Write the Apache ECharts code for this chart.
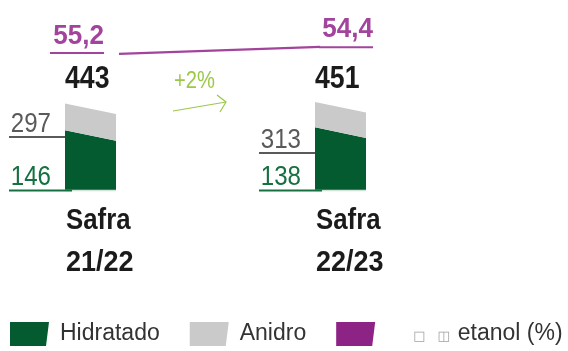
<!DOCTYPE html>
<html>
<head>
<meta charset="utf-8">
<style>
  html, body { margin: 0; padding: 0; background: #ffffff; }
  #chart { width: 568px; height: 351px; }
</style>
<script src="https://cdn.jsdelivr.net/npm/echarts@6/dist/echarts.min.js"></script>
</head>
<body>
<div id="chart"></div>
<script>
// Ethanol sales by harvest (thousand m³), split Hidratado / Anidro, plus ethanol share (%)
const categories = ['Safra\n21/22', 'Safra\n22/23'];
const hidratado = [297, 313];
const anidro = [146, 138];
const etanolPct = [55.2, 54.4];

const totals = categories.map((c, i) => hidratado[i] + anidro[i]);
const growth = Math.round((totals[1] / totals[0] - 1) * 100);
const growthLabel = (growth >= 0 ? '+' : '') + growth + '%';

const SANS = "'Liberation Sans', Arial, Helvetica, sans-serif";
const NARROW_X = 0.86;   // horizontal squeeze that gives the condensed look

const C = {
  green: '#045b30',
  grey: '#cacaca',
  greyText: '#5a5a5a',
  greenText: '#16703f',
  purple: '#a2449c',
  purpleLegend: '#8e2386',
  lime: '#9cc84a',
  dark: '#1b1b1b'
};

// bar geometry (pixels)
const HALF = 25.5;     // half bar width
const TILT = 5.3;      // slanted top: left edge higher than right edge
const sideLabelLift = [53, 37];               // distance of the upper side label's rule above the base
const pctLabelShift = [[13.5, -19, -2], [32.5, -17.3, 1]]; // [dx of right edge, dy of text, dy of rule]

const fmtPct = v => v.toFixed(1).replace('.', ',');

// condensed text element: anchored at (x, y), squeezed horizontally around that anchor
function ctext(x, y, text, font, fill, align, squeeze) {
  return {
    type: 'text', x: x, y: y, scaleX: squeeze || NARROW_X,
    style: { text: text, font: font, fill: fill, align: align, verticalAlign: 'middle' }
  };
}

function trapezoid(xl, xr, yBottomL, yBottomR, yTopL, yTopR, fill) {
  return {
    type: 'polygon',
    shape: { points: [[xl, yBottomL], [xr, yBottomR], [xr, yTopR], [xl, yTopL]] },
    style: { fill: fill }
  };
}

function renderHidratado(params, api) {
  const i = api.value(0);
  const v = api.value(1);
  const base = api.coord([i, 0]);
  const top = api.coord([i, v]);
  const xl = base[0] - HALF, xr = base[0] + HALF;
  const ruleY = base[1] - sideLabelLift[i];
  const lines = categories[i].split('\n');
  return {
    type: 'group',
    children: [
      trapezoid(xl, xr, base[1], base[1], top[1] - TILT, top[1] + TILT, api.visual('color')),
      { type: 'line', shape: { x1: xl - 56, y1: ruleY, x2: xl, y2: ruleY },
        style: { stroke: C.greyText, lineWidth: 2 } },
      ctext(xl - 14, ruleY - 13, String(v), '28px ' + SANS, C.greyText, 'right'),
      ctext(xl + 1, 221, lines[0], 'bold 30px ' + SANS, C.dark, 'left'),
      ctext(xl + 1, 262.5, lines[1], 'bold 30px ' + SANS, C.dark, 'left', 0.9)
    ]
  };
}

function renderAnidro(params, api) {
  const i = api.value(0);
  const v = api.value(1);
  const start = api.value(2);
  const zero = api.coord([i, 0]);
  const lo = api.coord([i, start]);
  const hi = api.coord([i, start + v]);
  const xl = lo[0] - HALF, xr = lo[0] + HALF;
  return {
    type: 'group',
    children: [
      trapezoid(xl, xr, lo[1] - TILT, lo[1] + TILT, hi[1] - TILT, hi[1] + TILT, api.visual('color')),
      { type: 'line', shape: { x1: xl, y1: zero[1] + 0.5, x2: xr, y2: zero[1] + 0.5 },
        style: { stroke: '#d3e3d9', lineWidth: 1.5 } },
      { type: 'line', shape: { x1: xl - 56, y1: zero[1] + 0.5, x2: xl + 7, y2: zero[1] + 0.5 },
        style: { stroke: C.greenText, lineWidth: 2 } },
      ctext(xl - 14, zero[1] - 13, String(v), '28px ' + SANS, C.greenText, 'right'),
      ctext(xl, 79, String(start + v), 'bold 31px ' + SANS, C.dark, 'left')
    ]
  };
}

function renderEtanol(params, api) {
  const i = api.value(0);
  const v = api.value(1);
  const p = api.coord([i, v]);
  const s = pctLabelShift[i];
  const right = p[0] + s[0];
  const children = [
    ctext(right, p[1] + s[1], fmtPct(v), 'bold 28px ' + SANS, C.purple, 'right', 0.93),
    { type: 'line', shape: { x1: right - 54, y1: p[1] + s[2], x2: right, y2: p[1] + s[2] },
      style: { stroke: C.purple, lineWidth: 2 } }
  ];
  if (i < etanolPct.length - 1) {
    // connector towards the next harvest, leaving a gap after this label
    const q = api.coord([i + 1, etanolPct[i + 1]]);
    const lerp = t => [p[0] + (q[0] - p[0]) * t, p[1] + (q[1] - p[1]) * t];
    const a = lerp(0.114), b = lerp(0.918);
    children.push({ type: 'line', shape: { x1: a[0], y1: a[1], x2: b[0], y2: b[1] },
      style: { stroke: C.purple, lineWidth: 2.2 } });
  }
  return { type: 'group', children: children };
}

const chart = echarts.init(document.getElementById('chart'), null, { renderer: 'canvas' });

chart.setOption({
  animation: false,
  backgroundColor: '#ffffff',
  grid: [
    { left: 90.5, right: 227.5, top: 47, bottom: 161 },
    { left: 90.5, right: 227.5, top: 41.9, height: 21.75 }
  ],
  xAxis: [
    { type: 'category', data: categories, boundaryGap: false, gridIndex: 0, show: false },
    { type: 'category', data: categories, boundaryGap: false, gridIndex: 1, show: false }
  ],
  yAxis: [
    { type: 'value', min: 0, max: 780, gridIndex: 0, show: false },
    { type: 'value', min: 54, max: 56, inverse: true, gridIndex: 1, show: false }
  ],
  legend: {
    left: 10,
    top: 322,
    width: 600,
    padding: 0,
    itemWidth: 39,
    itemHeight: 24,
    itemGap: 30,
    icon: 'path://M0,0L39,0L36,24L0,24Z',
    data: [
      { name: 'Hidratado' },
      { name: 'Anidro' },
      { name: 'etanol (%)', itemStyle: { color: C.purpleLegend } }
    ],
    formatter: name => name === 'etanol (%)'
      ? '{sp1| }{box|\u25A1}{sp2| }{box|\u25EB}{sp3| }' + name
      : name,
    textStyle: {
      fontFamily: SANS,
      fontSize: 23,
      color: '#333333',
      padding: [0, 0, 0, 6],
      rich: {
        sp1: { width: 27 },
        sp2: { width: 12 },
        sp3: { width: 8 },
        box: { fontSize: 13, color: '#a0a0a0', fontFamily: "'DejaVu Sans', sans-serif", padding: [5, 0, 0, 0] }
      }
    },
    selectedMode: false
  },
  graphic: [
    { type: 'text', x: 174, y: 81.5, scaleX: 0.84,
      style: { text: growthLabel, font: '24px ' + SANS, fill: C.lime, align: 'left', verticalAlign: 'middle' } },
    { type: 'polyline', shape: { points: [[173, 111], [226, 102]] }, style: { stroke: C.lime, lineWidth: 1.2, fill: null } },
    { type: 'polyline', shape: { points: [[217, 95], [226, 102], [220, 112]] }, style: { stroke: C.lime, lineWidth: 1.2, fill: null } }
  ],
  series: [
    {
      name: 'Hidratado',
      type: 'custom',
      xAxisIndex: 0, yAxisIndex: 0,
      itemStyle: { color: C.green },
      renderItem: renderHidratado,
      encode: { x: 0, y: 1 },
      data: categories.map((c, i) => [i, hidratado[i]])
    },
    {
      name: 'Anidro',
      type: 'custom',
      xAxisIndex: 0, yAxisIndex: 0,
      itemStyle: { color: C.grey },
      renderItem: renderAnidro,
      encode: { x: 0, y: 1 },
      data: categories.map((c, i) => [i, anidro[i], hidratado[i]])
    },
    {
      name: 'etanol (%)',
      type: 'custom',
      xAxisIndex: 1, yAxisIndex: 1,
      itemStyle: { color: C.purpleLegend },
      renderItem: renderEtanol,
      encode: { x: 0, y: 1 },
      data: categories.map((c, i) => [i, etanolPct[i]])
    }
  ]
});
</script>
</body>
</html>
